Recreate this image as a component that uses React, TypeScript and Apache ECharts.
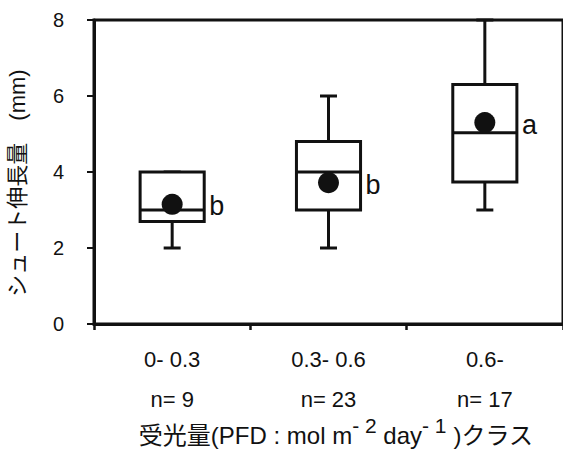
import React, { useEffect, useRef } from 'react';
import * as echarts from 'echarts';

const categories = ['0- 0.3', '0.3- 0.6', '0.6-'];
const sampleSizes = ['n= 9', 'n= 23', 'n= 17'];
const whiskerLow = [2.0, 2.0, 3.0];
const quartile1 = [2.7, 3.0, 3.74];
const medians = [3.0, 4.0, 5.03];
const quartile3 = [4.0, 4.8, 6.3];
const whiskerHigh = [4.0, 6.0, 8.0];
const means = [3.15, 3.72, 5.3];
const groupLetters = ['b', 'b', 'a'];

const yMin = 0;
const yMax = 8;
const yInterval = 2;

export default function App() {
  const ref = useRef<HTMLDivElement>(null);
  useEffect(() => {
    const chart = echarts.init(ref.current!, null, { renderer: 'svg' });
    const FONT = "'Liberation Sans', Arial, 'Noto Sans CJK JP', sans-serif";
    const INK = '#111111';
    const LW = 3;

    const boxData = categories.map((_, i) => [
      i, whiskerLow[i], quartile1[i], medians[i], quartile3[i], whiskerHigh[i],
    ]);
    const meanData = categories.map((_, i) => [i, means[i]]);

    chart.setOption({
      animation: false,
      grid: {
        left: 94, right: -4, top: 20, bottom: 128,
        show: true, borderColor: INK, borderWidth: 3, backgroundColor: 'transparent',
      },
      xAxis: {
        type: 'category',
        data: categories,
        boundaryGap: true,
        axisLine: { show: true, lineStyle: { color: INK, width: 3 } },
        axisTick: { show: true, length: 6, alignWithLabel: false, interval: 0, lineStyle: { color: INK, width: 2.5 } },
        axisLabel: {
          interval: 0,
          margin: 15,
          fontSize: 22,
          lineHeight: 40,
          color: INK,
          fontFamily: FONT,
          formatter: (v: string, i: number) => `${v}\n${sampleSizes[i]}`,
        },
        splitLine: { show: false },
      },
      yAxis: {
        type: 'value',
        min: yMin,
        max: yMax,
        interval: yInterval,
        axisLine: { show: true, lineStyle: { color: INK, width: 3 } },
        axisTick: { show: true, length: 7, lineStyle: { color: INK, width: 2 } },
        axisLabel: { margin: 30, fontSize: 20, color: INK, fontFamily: FONT },
        splitLine: { show: false },
      },
      series: [
        {
          type: 'custom',
          data: boxData,
          encode: { x: 0, y: [1, 2, 3, 4, 5] },
          renderItem: (params: any, api: any) => {
            const i = api.value(0);
            const band = api.size([1, 0])[0];
            const half = band * 0.205;
            const capHalf = 8.5;
            const lo = api.coord([i, api.value(1)]);
            const q1 = api.coord([i, api.value(2)]);
            const md = api.coord([i, api.value(3)]);
            const q3 = api.coord([i, api.value(4)]);
            const hi = api.coord([i, api.value(5)]);
            const cx = lo[0];
            const st = { stroke: INK, lineWidth: LW, fill: 'none' };
            return {
              type: 'group',
              children: [
                { type: 'line', shape: { x1: cx, y1: q3[1], x2: cx, y2: hi[1] }, style: st },
                { type: 'line', shape: { x1: cx, y1: q1[1], x2: cx, y2: lo[1] }, style: st },
                { type: 'line', shape: { x1: cx - capHalf, y1: hi[1], x2: cx + capHalf, y2: hi[1] }, style: st },
                { type: 'line', shape: { x1: cx - capHalf, y1: lo[1], x2: cx + capHalf, y2: lo[1] }, style: st },
                {
                  type: 'rect',
                  shape: { x: cx - half, y: q3[1], width: half * 2, height: q1[1] - q3[1] },
                  style: { stroke: INK, lineWidth: LW, fill: '#ffffff' },
                },
                { type: 'line', shape: { x1: cx - half, y1: md[1], x2: cx + half, y2: md[1] }, style: st },
              ],
            };
          },
          z: 2,
        },
        {
          type: 'scatter',
          data: meanData,
          symbol: 'circle',
          symbolSize: 21,
          itemStyle: { color: INK, opacity: 1 },
          z: 3,
        },
        {
          type: 'custom',
          data: meanData,
          encode: { x: 0, y: 1 },
          renderItem: (params: any, api: any) => {
            const i = api.value(0);
            const band = api.size([1, 0])[0];
            const half = band * 0.205;
            const p = api.coord([i, api.value(1)]);
            return {
              type: 'text',
              x: p[0] + half + 5,
              y: p[1] + 2,
              style: {
                text: groupLetters[params.dataIndex],
                fontSize: 27,
                fontFamily: FONT,
                fill: INK,
                align: 'left',
                verticalAlign: 'middle',
              },
            };
          },
          z: 3,
        },
      ],
      graphic: [
        {
          type: 'text',
          x: 17,
          y: 183,
          rotation: Math.PI / 2,
          style: {
            text: 'シュート伸長量　(mm)',
            fontSize: 22,
            fontFamily: FONT,
            fill: INK,
            align: 'center',
            verticalAlign: 'middle',
          },
        },
        {
          type: 'text',
          x: 336,
          y: 435,
          style: {
            text: '{n|受光量(PFD : mol m}{s|- 2}{n| day}{s|- 1}{n| )クラス}',
            fontSize: 24,
            fontFamily: FONT,
            fill: INK,
            align: 'center',
            verticalAlign: 'middle',
            rich: {
              n: { fontSize: 24, lineHeight: 40, fontFamily: FONT, fill: INK, verticalAlign: 'middle' },
              s: { fontSize: 21, lineHeight: 30, fontFamily: FONT, fill: INK, verticalAlign: 'top' },
            },
          },
        },
      ],
    });
    return () => chart.dispose();
  }, []);
  return (
    <div
      ref={ref}
      style={{ position: 'fixed', left: 0, top: 0, width: 563, height: 452, background: '#fff' }}
    />
  );
}
